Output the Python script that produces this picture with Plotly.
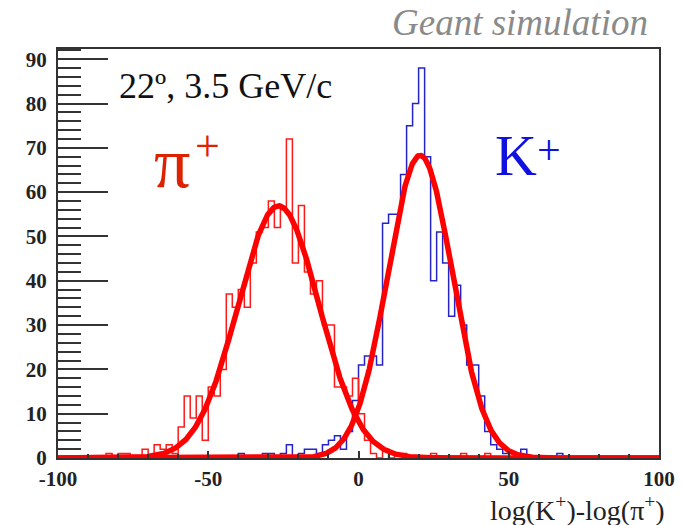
import numpy as np
import plotly.graph_objects as go

# ---- data (bins of width 2 from -100 to 100) ----
bin_low = -100
bin_width = 2
n_bins = 100

# pi+ histogram counts, bins [-100,-98] ... [98,100]
pion_counts = [
    0, 0, 0, 0, 0, 0, 0, 0, 1, 0,
    1, 1, 0, 0, 2, 0, 3, 2, 3, 1,
    7, 14, 9, 14, 4, 16, 14, 20, 37, 34,
    38, 34, 44, 51, 52, 58, 52, 56, 72, 44,
    57, 42, 37, 40, 30, 30, 16, 16, 14, 18,
    10, 4, 1, 0, 2, 0, 1, 1, 0, 0,
    0, 0, 1, 0, 0, 0, 0, 1, 0, 0,
    0, 1, 0, 0, 0, 0, 0, 0, 0, 0,
    0, 0, 0, 0, 0, 0, 0, 0, 0, 0,
    0, 0, 0, 0, 0, 0, 0, 0, 0, 0,
]

# K+ histogram counts
kaon_counts = [
    0, 0, 0, 0, 0, 0, 0, 0, 0, 0,
    0, 0, 0, 0, 0, 0, 0, 0, 0, 0,
    0, 0, 0, 0, 0, 0, 0, 0, 0, 0,
    1, 0, 0, 0, 1, 1, 0, 1, 3, 0,
    1, 2, 2, 1, 3, 4, 5, 2, 6, 13,
    21, 23, 23, 21, 53, 55, 55, 64, 75, 80,
    88, 68, 40, 51, 44, 32, 39, 30, 21, 21,
    14, 6, 3, 2, 1, 0, 0, 2, 0, 0,
    0, 0, 0, 1, 0, 0, 0, 0, 0, 0,
    0, 0, 0, 0, 0, 0, 0, 0, 0, 0,
]

# Gaussian fit parameters: amplitude, mean, sigma
pion_fit = (56.9, -26.6, 13.5)
kaon_fit = (68.3, 20.5, 10.8)

x_ticks = [-100, -50, 0, 50, 100]
x_tick_labels = ["-100", "-50", "0", "50", "100"]
y_ticks = [0, 10, 20, 30, 40, 50, 60, 70, 80, 90]

# ---- build figure ----
edges = [bin_low + bin_width * i for i in range(n_bins + 1)]


def step_trace(counts, color, name):
    ys = list(counts) + [counts[-1]]
    return go.Scatter(x=edges, y=ys, mode="lines", line=dict(color=color, width=1.5, shape="hv"),
                      name=name, showlegend=False, hoverinfo="skip")


def gauss(params, xs):
    a, m, s = params
    return a * np.exp(-0.5 * ((xs - m) / s) ** 2)


xf = np.linspace(-100, 100, 1001)

fig = go.Figure()
fig.add_trace(step_trace(kaon_counts, "#2424c8", "K+"))
fig.add_trace(step_trace(pion_counts, "#ff1a1a", "pi+"))
fig.add_trace(go.Scatter(x=xf, y=gauss(pion_fit, xf), mode="lines",
                         line=dict(color="#ff0000", width=5.5), showlegend=False, hoverinfo="skip"))
fig.add_trace(go.Scatter(x=xf, y=gauss(kaon_fit, xf), mode="lines",
                         line=dict(color="#ff0000", width=5.5), showlegend=False, hoverinfo="skip"))

serif = "'Liberation Serif', 'Times New Roman', Times, serif"
axis_col = "#333333"
pi_col = "#dd2200"
k_col = "#1010e0"

fig.update_layout(
    width=690, height=525,
    margin=dict(l=58, r=31, t=49, b=67),
    paper_bgcolor="white", plot_bgcolor="white",
    font=dict(family=serif, color="#222222"),
    xaxis=dict(
        range=[-100, 100], showgrid=False, zeroline=False,
        showline=True, linecolor=axis_col, linewidth=2, mirror=True,
        ticks="inside", ticklen=7, tickwidth=1.5, tickcolor=axis_col,
        tickvals=x_ticks, ticktext=["<b>%s</b>" % t for t in x_tick_labels],
        tickfont=dict(family=serif, size=21, color="#222222"),
        minor=dict(dtick=10, ticks="inside", ticklen=4, tickwidth=1.5, tickcolor=axis_col),
        ticklabelstandoff=1,
    ),
    yaxis=dict(
        range=[0, 92.3], showgrid=False, zeroline=False,
        showline=True, linecolor=axis_col, linewidth=2, mirror=True,
        ticks="inside", ticklen=50, tickwidth=2, tickcolor=axis_col,
        tickvals=y_ticks, ticktext=["<b>%d</b>" % v for v in y_ticks],
        tickfont=dict(family=serif, size=21, color="#222222"),
        minor=dict(dtick=2, ticks="inside", ticklen=23, tickwidth=2, tickcolor=axis_col),
        ticklabelstandoff=5,
    ),
    annotations=[
        dict(text="<i>Geant simulation</i>", xref="paper", yref="paper", x=0.985, y=1.066,
             xanchor="right", yanchor="middle", showarrow=False,
             font=dict(family=serif, size=37, color="#8a8a8a")),
        dict(text="22º, 3.5 GeV/c", xref="x", yref="y", x=-80.5, y=84,
             xanchor="left", yanchor="middle", showarrow=False,
             font=dict(family=serif, size=36, color="#111111")),
        dict(text="π", xref="x", yref="y", x=-68.5, y=66.5,
             xanchor="left", yanchor="middle", showarrow=False,
             font=dict(family=serif, size=72, color=pi_col), borderpad=0),
        dict(text="+", xref="x", yref="y", x=-54.6, y=70.2,
             xanchor="left", yanchor="middle", showarrow=False,
             font=dict(family=serif, size=44, color=pi_col), borderpad=0),
        dict(text="K", xref="x", yref="y", x=45, y=68.2,
             xanchor="left", yanchor="middle", showarrow=False,
             font=dict(family=serif, size=58, color=k_col), borderpad=0),
        dict(text="+", xref="x", yref="y", x=59.1, y=69.5,
             xanchor="left", yanchor="middle", showarrow=False,
             font=dict(family=serif, size=42, color=k_col), borderpad=0),
        dict(text="log(K<sup>+</sup>)-log(π<sup>+</sup>)", xref="paper", yref="paper", x=1.012, y=-0.123,
             xanchor="right", yanchor="middle", showarrow=False,
             font=dict(family=serif, size=28, color="#222222"), borderpad=0),
    ],
)

fig.write_html("out.html")
